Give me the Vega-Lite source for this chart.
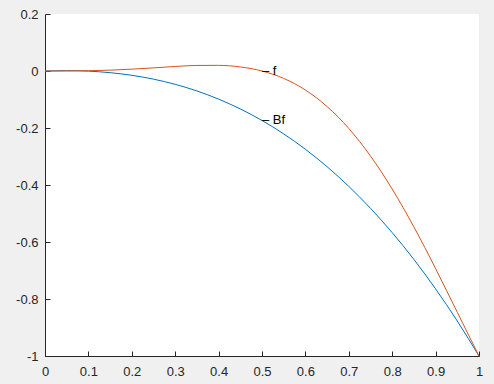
{
  "$schema": "https://vega.github.io/schema/vega-lite/v6.json",
  "width": 434,
  "height": 342,
  "autosize": {"type": "none"},
  "padding": {"left": 45, "top": 14, "right": 15, "bottom": 28},
  "background": "#f0f0f0",
  "config": {
    "view": {"fill": "white", "stroke": null},
    "font": "Liberation Sans"
  },
  "datasets": {
    "curves": [
      {"x": 0, "y": 0, "series": "Bf"},
      {"x": 0.05, "y": 0.0013, "series": "Bf"},
      {"x": 0.1, "y": -0.0005, "series": "Bf"},
      {"x": 0.15, "y": -0.0059, "series": "Bf"},
      {"x": 0.2, "y": -0.0151, "series": "Bf"},
      {"x": 0.25, "y": -0.0286, "series": "Bf"},
      {"x": 0.3, "y": -0.0468, "series": "Bf"},
      {"x": 0.35, "y": -0.0700, "series": "Bf"},
      {"x": 0.4, "y": -0.0987, "series": "Bf"},
      {"x": 0.45, "y": -0.1331, "series": "Bf"},
      {"x": 0.5, "y": -0.1736, "series": "Bf"},
      {"x": 0.55, "y": -0.2207, "series": "Bf"},
      {"x": 0.6, "y": -0.2747, "series": "Bf"},
      {"x": 0.65, "y": -0.3359, "series": "Bf"},
      {"x": 0.7, "y": -0.4048, "series": "Bf"},
      {"x": 0.75, "y": -0.4818, "series": "Bf"},
      {"x": 0.8, "y": -0.5671, "series": "Bf"},
      {"x": 0.85, "y": -0.6612, "series": "Bf"},
      {"x": 0.9, "y": -0.7645, "series": "Bf"},
      {"x": 0.95, "y": -0.8773, "series": "Bf"},
      {"x": 1, "y": -1, "series": "Bf"},
      {"x": 0, "y": 0, "series": "f"},
      {"x": 0.05, "y": 0.0001, "series": "f"},
      {"x": 0.1, "y": 0.0010, "series": "f"},
      {"x": 0.15, "y": 0.0030, "series": "f"},
      {"x": 0.2, "y": 0.0065, "series": "f"},
      {"x": 0.25, "y": 0.0110, "series": "f"},
      {"x": 0.3, "y": 0.0159, "series": "f"},
      {"x": 0.35, "y": 0.0195, "series": "f"},
      {"x": 0.4, "y": 0.0198, "series": "f"},
      {"x": 0.45, "y": 0.0143, "series": "f"},
      {"x": 0.5, "y": 0, "series": "f"},
      {"x": 0.55, "y": -0.0260, "series": "f"},
      {"x": 0.6, "y": -0.0667, "series": "f"},
      {"x": 0.65, "y": -0.1247, "series": "f"},
      {"x": 0.7, "y": -0.2016, "series": "f"},
      {"x": 0.75, "y": -0.2983, "series": "f"},
      {"x": 0.8, "y": -0.4142, "series": "f"},
      {"x": 0.85, "y": -0.5472, "series": "f"},
      {"x": 0.9, "y": -0.6934, "series": "f"},
      {"x": 0.95, "y": -0.8468, "series": "f"},
      {"x": 1, "y": -1, "series": "f"}
    ],
    "labels": [
      {"x": 0.5, "y": 0, "label": "– f"},
      {"x": 0.5, "y": -0.1736, "label": "– Bf"}
    ]
  },
  "layer": [
    {
      "data": {"name": "curves"},
      "mark": {"type": "line", "strokeWidth": 1, "interpolate": "monotone"},
      "encoding": {
        "x": {
          "field": "x", "type": "quantitative",
          "scale": {"domain": [0, 1], "nice": false, "zero": false},
          "axis": {
            "title": null, "grid": false,
            "values": [0, 0.1, 0.2, 0.3, 0.4, 0.5, 0.6, 0.7, 0.8, 0.9, 1],
            "labelExpr": "'' + round(datum.value * 10) / 10",
            "tickSize": -5, "tickColor": "#262626", "domainColor": "#262626",
            "labelColor": "#262626", "labelFontSize": 13, "labelPadding": 14,
            "labelFlush": false, "labelOverlap": false
          }
        },
        "y": {
          "field": "y", "type": "quantitative",
          "scale": {"domain": [-1, 0.2], "nice": false, "zero": false},
          "axis": {
            "title": null, "grid": false,
            "values": [-1, -0.8, -0.6, -0.4, -0.2, 0, 0.2],
            "labelExpr": "'' + round(datum.value * 10) / 10",
            "tickSize": -5, "tickColor": "#262626", "domainColor": "#262626",
            "labelColor": "#262626", "labelFontSize": 13, "labelPadding": 12,
            "labelFlush": false, "labelOverlap": false
          }
        },
        "color": {
          "field": "series", "type": "nominal",
          "scale": {"domain": ["Bf", "f"], "range": ["#0072BD", "#D95319"]},
          "legend": null
        }
      }
    },
    {
      "data": {"name": "labels"},
      "mark": {"type": "text", "align": "left", "baseline": "middle", "fontSize": 13, "color": "#000000"},
      "encoding": {
        "x": {"field": "x", "type": "quantitative"},
        "y": {"field": "y", "type": "quantitative"},
        "text": {"field": "label"}
      }
    }
  ]
}
